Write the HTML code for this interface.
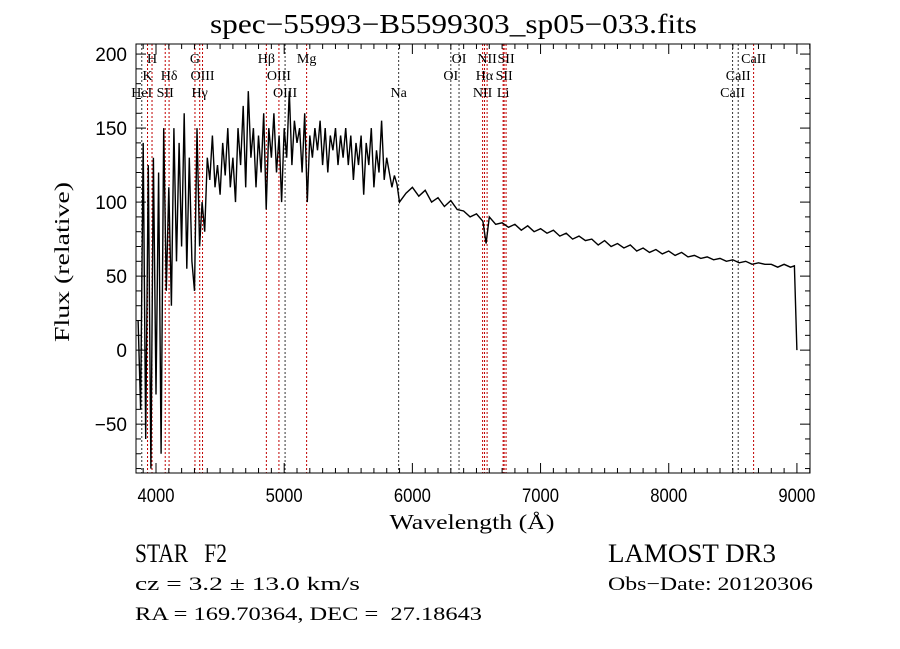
<!DOCTYPE html>
<html><head><meta charset="utf-8"><style>
html,body{margin:0;padding:0;background:#fff;}
svg{display:block;}
</style></head><body>
<svg id="chart" width="900" height="649" viewBox="0 0 900 649" xmlns="http://www.w3.org/2000/svg">
<rect x="0" y="0" width="900" height="649" fill="#fff"/>
<text x="210" y="33" textLength="487" lengthAdjust="spacingAndGlyphs" font-family="Liberation Serif, serif" font-size="27" fill="#000">spec−55993−B5599303_sp05−033.fits</text>
<g id="lines"></g>
<g id="series"></g>
<g id="axes"></g>
<g id="labels"></g>
<text x="472" y="529" text-anchor="middle" textLength="165" lengthAdjust="spacingAndGlyphs" font-family="Liberation Serif, serif" font-size="21" fill="#000">Wavelength (Å)</text>
<text transform="translate(69,262) rotate(-90)" text-anchor="middle" textLength="160" lengthAdjust="spacingAndGlyphs" font-family="Liberation Serif, serif" font-size="21" fill="#000">Flux (relative)</text>
<text x="135" y="562" textLength="92" lengthAdjust="spacingAndGlyphs" font-family="Liberation Serif, serif" font-size="26" fill="#000">STAR&#160;&#160;&#160;F2</text>
<text x="608" y="562" textLength="168" lengthAdjust="spacingAndGlyphs" font-family="Liberation Serif, serif" font-size="26" fill="#000">LAMOST DR3</text>
<text x="135" y="590" textLength="225" lengthAdjust="spacingAndGlyphs" font-family="Liberation Serif, serif" font-size="19" fill="#000">cz = 3.2 ± 13.0 km/s</text>
<text x="608" y="590" textLength="205" lengthAdjust="spacingAndGlyphs" font-family="Liberation Serif, serif" font-size="19" fill="#000">Obs−Date: 20120306</text>
<text x="135" y="620" textLength="347" lengthAdjust="spacingAndGlyphs" font-family="Liberation Serif, serif" font-size="19" fill="#000">RA = 169.70364, DEC =&#160;&#160;27.18643</text>
</svg>
<script>
const waves = [3860,3880,3900,3920,3940,3960,3980,4000,4020,4040,4060,4080,4100,4120,4140,4160,4180,4200,4220,4240,4260,4280,4300,4320,4340,4360,4380,4400,4420,4440,4460,4480,4500,4520,4540,4560,4580,4600,4620,4640,4660,4680,4700,4720,4740,4760,4780,4800,4820,4840,4860,4880,4900,4920,4940,4960,4980,5000,5020,5040,5060,5080,5100,5120,5140,5160,5180,5200,5220,5240,5260,5280,5300,5320,5340,5360,5380,5400,5420,5440,5460,5480,5500,5520,5540,5560,5580,5600,5620,5640,5660,5680,5700,5720,5740,5760,5780,5800,5820,5840,5860,5880,5900,5950,6000,6050,6100,6150,6200,6250,6300,6350,6400,6450,6500,6550,6575,6600,6650,6700,6750,6800,6850,6900,6950,7000,7050,7100,7150,7200,7250,7300,7350,7400,7450,7500,7550,7600,7650,7700,7750,7800,7850,7900,7950,8000,8050,8100,8150,8200,8250,8300,8350,8400,8450,8500,8550,8600,8650,8700,8750,8800,8850,8900,8950,8980,9000];
const flux = [20,-40,140,-60,125,-80,130,-30,120,-70,150,40,110,30,150,60,140,70,160,55,130,60,40,150,70,100,80,130,115,145,110,125,105,140,118,150,110,130,100,150,125,165,110,175,130,150,110,145,120,160,95,150,130,160,120,145,100,150,130,175,125,155,140,150,120,160,100,145,130,150,135,155,125,150,120,145,135,150,125,145,130,150,125,145,115,140,125,145,105,140,125,150,110,135,120,155,115,130,120,110,118,112,100,106,110,104,108,100,103,97,101,95,94,90,92,87,72,90,85,86,83,85,81,84,80,82,79,81,77,79,75,77,74,75,71,74,70,72,69,71,67,69,66,68,65,67,64,66,63,64,62,63,61,62,60,61,59,60,58,59,58,58,56,58,56,57,0];
const lineWaves = [3889,3934,3969,4072,4102,4304,4341,4363,4861,4959,5007,5175,5893,6300,6364,6548,6563,6583,6708,6716,6731,8498,8542,8662];
const lineNames = ["HeI","K","H","SII","Hδ","G","Hγ","OIII","Hβ","OIII","OIII","Mg","Na","OI","OI","NII","Hα","NII","Li","SII","SII","CaII","CaII","CaII"];
const lineRows = [3,2,1,3,2,1,3,2,1,2,3,1,3,2,1,3,2,1,3,2,1,3,2,1];
const lineRed = [0,1,1,1,1,1,1,1,1,1,0,1,0,0,0,1,1,1,1,1,1,0,0,1];
const xTicks = [4000,5000,6000,7000,8000,9000];
const yTicks = [-50,0,50,100,150,200];

const L=136,R=810,T=44,B=473;
const xMin=3844,xMax=9102,yMin=-83,yMax=206.8;
const NS='http://www.w3.org/2000/svg';
function X(w){return L+(w-xMin)/(xMax-xMin)*(R-L);}
function Y(f){return B-(f-yMin)/(yMax-yMin)*(B-T);}
function mk(tag,attrs,parent){const e=document.createElementNS(NS,tag);for(const k in attrs)e.setAttribute(k,attrs[k]);parent.appendChild(e);return e;}

const gl=document.getElementById('lines'), glab=document.getElementById('labels');
const rowY={1:63,2:80,3:97};
lineWaves.forEach((w,i)=>{
  const x=X(w);
  const ln=mk('line',{x1:x,x2:x,y1:T,y2:B,stroke:lineRed[i]?'#c00000':'#333','stroke-width':1,'stroke-dasharray':'2,2'},gl);
  
  
  const t=mk('text',{x:x,y:rowY[lineRows[i]],'text-anchor':'middle','font-family':'Liberation Serif, serif','font-size':14,fill:'#000'},glab);
  t.textContent=lineNames[i];
  
  
});

const gs=document.getElementById('series');
let d='';
waves.forEach((w,i)=>{d+=(i?'L':'M')+X(w).toFixed(1)+','+Y(flux[i]).toFixed(1);});
const p=mk('path',{d:d,fill:'none',stroke:'#000','stroke-width':1.4,'stroke-linejoin':'miter'},gs);



const ga=document.getElementById('axes');
const fr=mk('rect',{x:L,y:T,width:R-L,height:B-T,fill:'none',stroke:'#000','stroke-width':1},ga);


for(let w=3900;w<=9100;w+=100){
  const major=w%1000===0, len=major?10:5, x=X(w);
  mk('line',{x1:x,x2:x,y1:B,y2:B-len,stroke:'#000'},ga);
  mk('line',{x1:x,x2:x,y1:T,y2:T+len,stroke:'#000'},ga);
}
for(let f=-80;f<=200;f+=10){
  const major=f%50===0, len=major?10:5, y=Y(f);
  mk('line',{x1:L,x2:L+len,y1:y,y2:y,stroke:'#000'},ga);
  mk('line',{x1:R,x2:R-len,y1:y,y2:y,stroke:'#000'},ga);
}
xTicks.forEach(v=>{
  const t=mk('text',{x:X(v),y:502,'text-anchor':'middle','font-family':'Liberation Sans, sans-serif','font-size':19,fill:'#000',textLength:37,lengthAdjust:'spacingAndGlyphs'},ga);
  t.textContent=String(v);
  
  
});
yTicks.forEach(v=>{
  const s=v<0?'−'+Math.abs(v):String(v);
  const t=mk('text',{x:127,y:Y(v)+7,'text-anchor':'end','font-family':'Liberation Sans, sans-serif','font-size':19,fill:'#000'},ga);
  t.textContent=s;
  
  
});
</script>
</body></html>
